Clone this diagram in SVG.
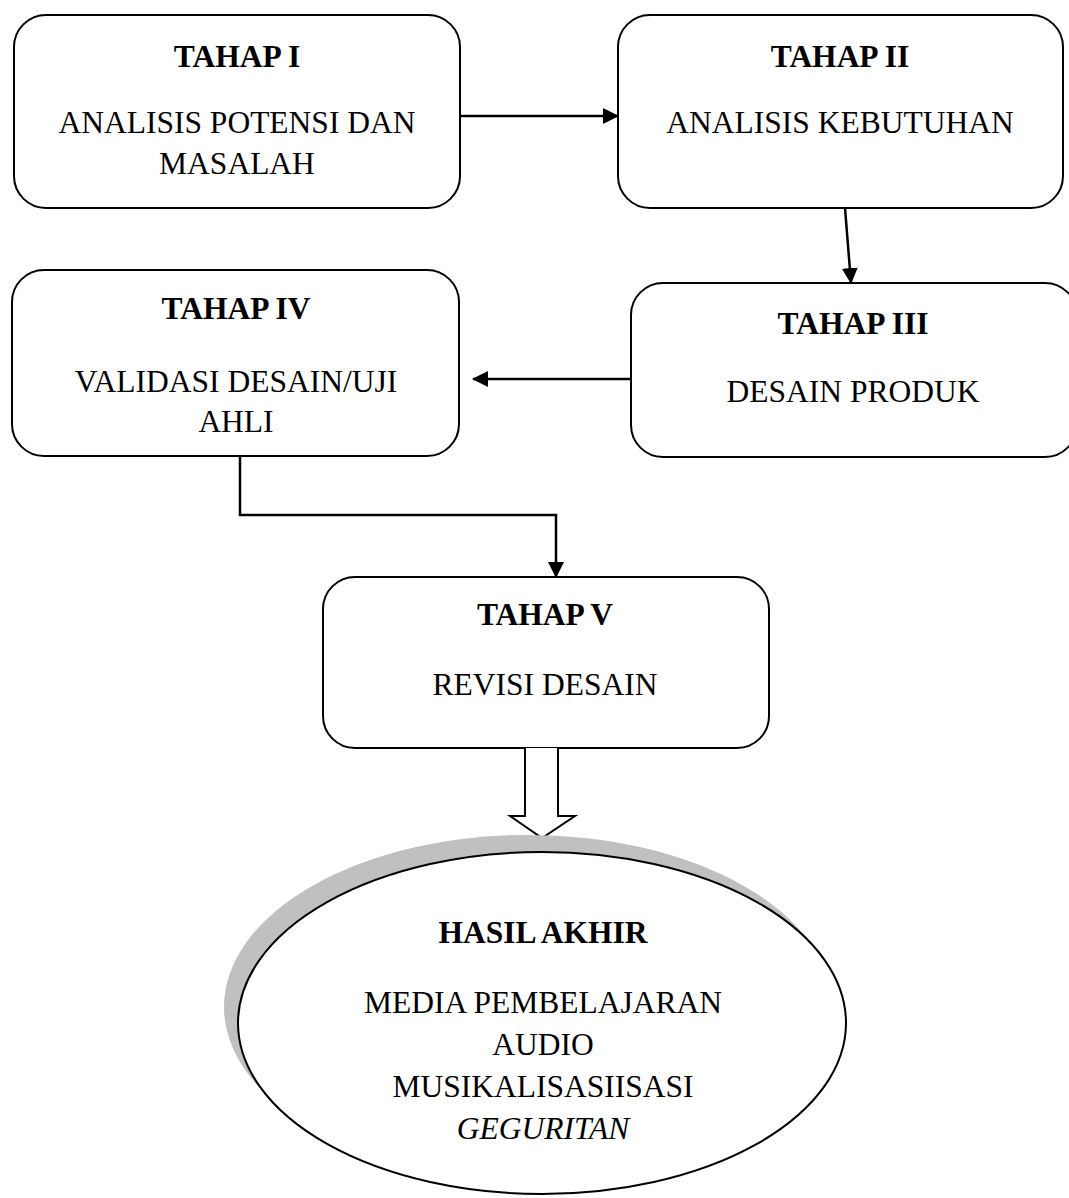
<svg xmlns="http://www.w3.org/2000/svg" width="1069" height="1198" viewBox="0 0 1069 1198">
<style>
.box{fill:#fff;stroke:#000;stroke-width:2}
.t{font-family:"Liberation Serif","Times New Roman",serif;font-size:31.5px;text-anchor:middle;fill:#000}
.b{font-weight:bold}
.i{font-style:italic}
.c{fill:none;stroke:#000;stroke-width:2.5}
</style>
<defs>
<marker id="ah2" markerWidth="16" markerHeight="16" refX="15" refY="8" orient="auto" markerUnits="userSpaceOnUse" viewBox="0 0 16 16">
<path d="M0,0 L16,8 L0,16 z" fill="#000"/>
</marker>
</defs>
<rect width="1069" height="1198" fill="#fff"/>
<g id="connectors">
<line class="c" x1="460" y1="116" x2="618" y2="116" marker-end="url(#ah2)"/>
<line class="c" x1="845" y1="208" x2="851" y2="283" marker-end="url(#ah2)"/>
<line class="c" x1="631" y1="379" x2="473" y2="379" marker-end="url(#ah2)"/>
<polyline class="c" points="240,456 240,515 556,515 556,577" marker-end="url(#ah2)"/>
</g>
<g id="node1">
<rect class="box" x="14" y="15" width="446" height="193" rx="32"/>
<text class="t b" x="237" y="67">TAHAP I</text>
<text class="t" x="237" y="133">ANALISIS POTENSI DAN</text>
<text class="t" x="237" y="174">MASALAH</text>
</g>
<g id="node2">
<rect class="box" x="618" y="15" width="445" height="193" rx="32"/>
<text class="t b" x="840" y="67">TAHAP II</text>
<text class="t" x="840" y="133">ANALISIS KEBUTUHAN</text>
</g>
<g id="node3">
<rect class="box" x="631" y="283" width="446" height="174" rx="32"/>
<text class="t b" x="853" y="334">TAHAP III</text>
<text class="t" x="853" y="402">DESAIN PRODUK</text>
</g>
<g id="node4">
<rect class="box" x="12" y="270" width="447" height="186" rx="32"/>
<text class="t b" x="236" y="319">TAHAP IV</text>
<text class="t" x="236" y="392">VALIDASI DESAIN/UJI</text>
<text class="t" x="236" y="432">AHLI</text>
</g>
<g id="node5">
<rect class="box" x="323" y="577" width="446" height="171" rx="32"/>
<text class="t b" x="545" y="625">TAHAP V</text>
<text class="t" x="545" y="695">REVISI DESAIN</text>
</g>
<g id="blockarrow">
<path d="M525,748 L525,816 L510,816 L542,838 L575,816 L558,816 L558,748" fill="#fff" stroke="#000" stroke-width="2"/>
</g>
<g id="node6">
<ellipse cx="528" cy="1007" rx="304" ry="172" fill="#c0c0c0"/>
<ellipse cx="542" cy="1023" rx="304" ry="171" fill="#fff" stroke="#000" stroke-width="2"/>
<text class="t b" x="543" y="943">HASIL AKHIR</text>
<text class="t" x="543" y="1013">MEDIA PEMBELAJARAN</text>
<text class="t" x="543" y="1055">AUDIO</text>
<text class="t" x="543" y="1097">MUSIKALISASIISASI</text>
<text class="t i" x="543" y="1139">GEGURITAN</text>
</g>
</svg>
